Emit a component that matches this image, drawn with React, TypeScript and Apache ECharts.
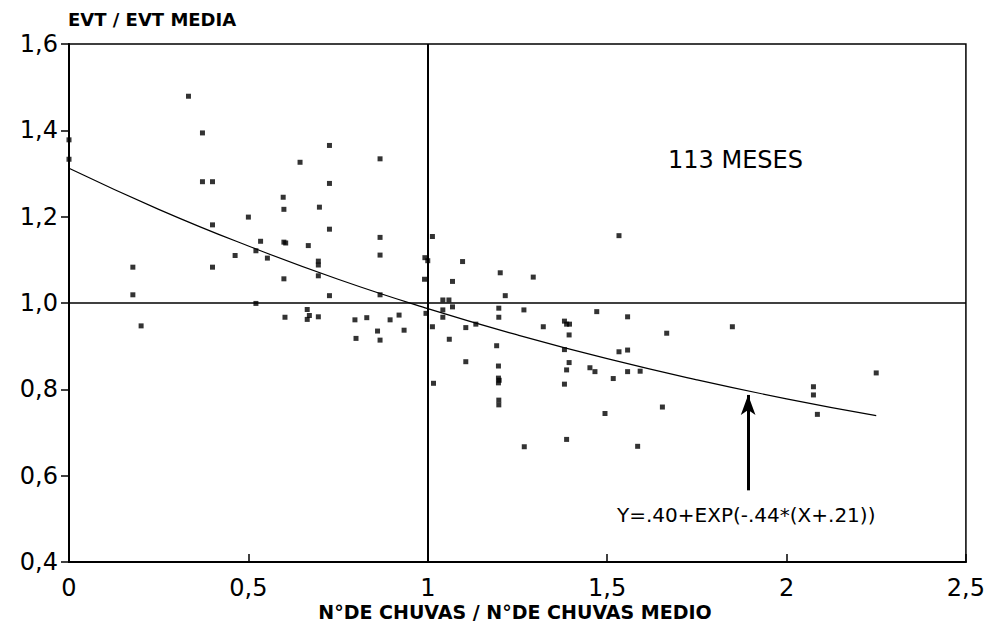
import React, { useEffect, useRef } from "react";
import * as echarts from "echarts";

// Observed points: [N° de chuvas / N° de chuvas medio, EVT / EVT media]
const pointsX: number[] = [
  0.0, 0.0, 0.333, 0.372, 0.372, 0.4, 0.644, 0.726, 0.726, 0.867,
  0.597, 0.599, 0.698, 0.726, 0.5, 0.4, 0.534, 0.521, 0.599, 0.604,
  0.667, 0.463, 0.553, 0.695, 0.695, 0.178, 0.4, 0.695, 0.599, 0.178,
  0.726, 0.521, 0.201, 0.602, 0.664, 0.664, 0.67, 0.695, 0.867, 0.867,
  0.867, 1.013, 0.992, 1.0, 1.097, 0.991, 1.069, 1.202, 1.294, 1.216,
  1.533, 1.042, 1.059, 1.069, 1.042, 1.042, 0.995, 0.797, 0.83, 0.895,
  0.92, 0.86, 0.934, 0.8, 0.867, 1.013, 1.06, 1.106, 1.134, 1.198,
  1.198, 1.268, 1.322, 1.381, 1.387, 1.395, 1.394, 1.471, 1.557, 1.192,
  1.381, 1.533, 1.557, 1.106, 1.197, 1.394, 1.387, 1.452, 1.466, 1.557,
  1.592, 1.197, 1.517, 1.666, 1.849, 2.25, 2.075, 2.075, 2.086, 1.494,
  1.654, 1.585, 1.016, 1.197, 1.381, 1.198, 1.198, 1.269, 1.387, 1.199,
];
const pointsY: number[] = [
  1.378, 1.333, 1.479, 1.394, 1.281, 1.281, 1.326, 1.365, 1.277, 1.334,
  1.245, 1.217, 1.222, 1.171, 1.199, 1.181, 1.143, 1.121, 1.141, 1.139,
  1.133, 1.11, 1.104, 1.097, 1.088, 1.083, 1.083, 1.063, 1.056, 1.019,
  1.017, 0.999, 0.947, 0.967, 0.985, 0.962, 0.971, 0.968, 1.152, 1.111,
  1.019, 1.154, 1.105, 1.098, 1.096, 1.055, 1.05, 1.07, 1.06, 1.017,
  1.156, 1.007, 1.007, 0.991, 0.984, 0.967, 0.976, 0.961, 0.966, 0.961,
  0.972, 0.935, 0.937, 0.918, 0.914, 0.945, 0.916, 0.943, 0.951, 0.988,
  0.967, 0.984, 0.945, 0.958, 0.951, 0.951, 0.926, 0.98, 0.968, 0.901,
  0.892, 0.887, 0.891, 0.864, 0.854, 0.862, 0.845, 0.85, 0.841, 0.841,
  0.842, 0.826, 0.825, 0.93, 0.945, 0.838, 0.806, 0.787, 0.742, 0.744,
  0.759, 0.668, 0.814, 0.815, 0.812, 0.775, 0.764, 0.667, 0.684, 0.821,
];

// Fitted curve
const curveX: number[] = [0, 0.25, 0.5, 0.75, 1, 1.25, 1.5, 1.75, 2, 2.25];
const curveY: number[] = [1.312, 1.217, 1.132, 1.055, 0.987, 0.926, 0.871, 0.822, 0.778, 0.739];

// Arrow pointing at the curve
const arrowX = 1.893;
const arrowFromY = 0.566;
const arrowToY = 0.787;

const xTicks: string[] = ["0", "0,5", "1", "1,5", "2", "2,5"];
const yTicks: string[] = ["0,4", "0,6", "0,8", "1,0", "1,2", "1,4", "1,6"];

const yTitle = "EVT / EVT MEDIA";
const xTitle = "N°DE CHUVAS / N°DE CHUVAS MEDIO";
const noteText = "113 MESES";
const formulaText = "Y=.40+EXP(-.44*(X+.21))";

const FONT = "'DejaVu Sans', 'Liberation Sans', Arial, sans-serif";

export default function App() {
  const ref = useRef<HTMLDivElement>(null);

  useEffect(() => {
    if (!ref.current) return;
    const chart = echarts.init(ref.current, undefined, { renderer: "svg" });
    const scatterData = pointsX.map((x, i) => [x, pointsY[i]]);
    const curveData = curveX.map((x, i) => [x, curveY[i]]);

    chart.setOption({
      animation: false,
      backgroundColor: "#fff",
      textStyle: { fontFamily: FONT },
      grid: {
        left: 69,
        right: 22,
        top: 44,
        bottom: 66,
        show: true,
        borderColor: "#000",
        borderWidth: 1.5,
        backgroundColor: "transparent",
      },
      xAxis: {
        type: "value",
        min: 0,
        max: 2.5,
        interval: 0.5,
        axisLine: { show: true, lineStyle: { color: "#000", width: 2 } },
        axisTick: { show: true, inside: true, length: 8, lineStyle: { color: "#000", width: 1.5 } },
        splitLine: { show: false },
        axisLabel: {
          color: "#000",
          fontSize: 24,
          fontFamily: FONT,
          margin: 14,
          formatter: (v: number) => xTicks[Math.round(v / 0.5)] ?? "",
        },
      },
      yAxis: {
        type: "value",
        min: 0.4,
        max: 1.6,
        interval: 0.2,
        axisLine: { show: true, lineStyle: { color: "#000", width: 2 } },
        axisTick: { show: true, inside: false, length: 8, lineStyle: { color: "#000", width: 1.5 } },
        splitLine: { show: false },
        axisLabel: {
          color: "#000",
          fontSize: 24,
          fontFamily: FONT,
          margin: 11,
          formatter: (v: number) => yTicks[Math.round((v - 0.4) / 0.2)] ?? "",
        },
      },
      series: [
        {
          type: "scatter",
          data: scatterData,
          symbol: "rect",
          symbolSize: 5,
          itemStyle: { color: "#000" },
          silent: true,
          markLine: {
            silent: true,
            symbol: "none",
            label: { show: false },
            data: [
              { xAxis: 1, lineStyle: { color: "#000", width: 2, type: "solid" } },
              { yAxis: 1, lineStyle: { color: "#000", width: 1.5, type: "solid" } },
            ],
          },
        },
        {
          type: "line",
          data: curveData,
          smooth: true,
          showSymbol: false,
          symbol: "none",
          lineStyle: { color: "#000", width: 1.2 },
          silent: true,
          markLine: {
            silent: true,
            symbol: ["none", "arrow"],
            symbolSize: [11, 20],
            label: { show: false },
            lineStyle: { color: "#000", width: 3, type: "solid" },
            data: [[{ coord: [arrowX, arrowFromY] }, { coord: [arrowX, arrowToY] }]],
          },
        },
      ],
      graphic: [
        {
          type: "text",
          left: 68,
          top: 10,
          style: { text: yTitle, fontSize: 18, fontWeight: "bold", fontFamily: FONT, fill: "#000" },
        },
        {
          type: "text",
          x: 515,
          y: 612,
          style: {
            text: xTitle,
            fontSize: 19,
            fontWeight: "bold",
            fontFamily: FONT,
            fill: "#000",
            align: "center",
            verticalAlign: "middle",
          },
        },
        {
          type: "text",
          x: 668,
          y: 160,
          style: {
            text: noteText,
            fontSize: 24,
            fontFamily: FONT,
            fill: "#000",
            verticalAlign: "middle",
          },
        },
        {
          type: "text",
          x: 617,
          y: 515,
          style: {
            text: formulaText,
            fontSize: 20,
            fontFamily: FONT,
            fill: "#000",
            verticalAlign: "middle",
          },
        },
      ],
    });

    return () => chart.dispose();
  }, []);

  return (
    <div
      ref={ref}
      style={{ position: "fixed", left: 0, top: 0, width: 988, height: 628, background: "#fff" }}
    />
  );
}
